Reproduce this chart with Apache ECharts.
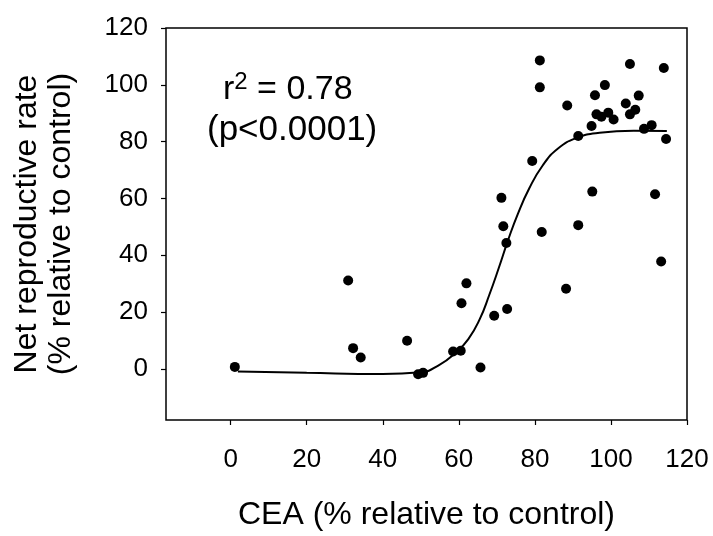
<!DOCTYPE html>
<html>
<head>
<meta charset="utf-8">
<script src="https://cdn.jsdelivr.net/npm/echarts@6/dist/echarts.min.js"></script>
<style>
html, body { margin: 0; padding: 0; background: #fff; }
#chart { width: 713px; height: 536px; }
</style>
</head>
<body>
<div id="chart"></div>
<script>
// measured points: CEA (%) vs net reproductive rate (%)
const cea = [1.1, 30.9, 32.2, 34.2, 46.4, 49.3, 50.6, 58.5, 60.5, 60.7,
  62.0, 65.7, 69.3, 71.2, 71.7, 72.5, 72.7, 79.3, 81.3, 81.3,
  81.8, 88.2, 88.5, 91.4, 91.4, 94.9, 95.1, 95.8, 96.2, 97.5,
  98.4, 99.3, 100.7, 103.9, 105.0, 105.0, 106.4, 107.3, 108.7, 110.7,
  111.6, 113.2, 113.9, 114.5];
const netRate = [0.7, 31.1, 7.3, 4.0, 9.9, -1.9, -1.4, 6.1, 6.4, 23.1,
  30.1, 0.5, 18.7, 60.2, 50.2, 44.3, 21.1, 73.2, 108.6, 99.1,
  48.2, 28.2, 92.7, 82.0, 50.6, 85.5, 62.4, 96.3, 89.6, 88.8,
  99.9, 90.2, 87.8, 93.4, 107.3, 89.6, 91.2, 96.2, 84.5, 85.8,
  61.5, 37.8, 105.9, 80.9];

// fitted sigmoid
const fitX = [1.9, 20, 40, 50, 55, 59, 62.5, 65.5, 68, 70.5,
  73, 75.5, 78.5, 82, 86, 91, 97, 106, 114.7];
const fitY = [-0.9, -1.4, -1.8, -1.2, 1.5, 5.5, 10.5, 17.5, 26, 35.5,
  45.5, 54.5, 63.5, 71.5, 77.5, 81.3, 83.1, 83.8, 83.7];

const xTicks = [0, 20, 40, 60, 80, 100, 120];
const yTicks = [0, 20, 40, 60, 80, 100, 120];

const font = '"Liberation Sans", Arial, sans-serif';

const chart = echarts.init(document.getElementById('chart'));
chart.setOption({
  animation: false,
  textStyle: { fontFamily: font, color: '#000' },
  grid: {
    left: 166, right: 26, top: 28, bottom: 116,
    show: true, borderColor: '#000', borderWidth: 1.5
  },
  xAxis: {
    type: 'value', min: -17, max: 120,
    name: 'CEA (% relative to control)',
    nameLocation: 'middle', nameGap: 79,
    nameTextStyle: { fontSize: 32, color: '#000', fontFamily: font },
    axisLine: { show: false, onZero: false },
    axisTick: { show: true, customValues: xTicks, length: 5, lineStyle: { color: '#000', width: 1.2 } },
    axisLabel: { customValues: xTicks, fontSize: 26, color: '#000', margin: 27, fontFamily: font },
    splitLine: { show: false }
  },
  yAxis: {
    type: 'value', min: -18, max: 120,
    name: 'Net reproductive rate\n(% relative to control)',
    nameLocation: 'middle', nameGap: 88,
    nameTextStyle: { fontSize: 32, color: '#000', fontFamily: font, lineHeight: 34 },
    axisLine: { show: false, onZero: false },
    axisTick: { show: true, customValues: yTicks, length: 5, lineStyle: { color: '#000', width: 1.2 } },
    axisLabel: { customValues: yTicks, fontSize: 26, color: '#000', margin: 18, fontFamily: font },
    splitLine: { show: false }
  },
  graphic: [
    {
      type: 'text', left: 223, top: 70,
      style: {
        text: 'r{s|2} = 0.78',
        fontSize: 34, fontFamily: font, fill: '#000',
        lineHeight: 40,
        rich: { s: { fontSize: 24, fontFamily: font, verticalAlign: 'top', lineHeight: 24 } }
      }
    },
    {
      type: 'text', left: 207, top: 113,
      style: { text: '(p<0.0001)', fontSize: 35, fontFamily: font, fill: '#000' }
    }
  ],
  series: [
    {
      type: 'scatter',
      data: cea.map((x, i) => [x, netRate[i]]),
      symbol: 'circle', symbolSize: 10,
      itemStyle: { color: '#000', opacity: 1 },
      z: 3
    },
    {
      type: 'line',
      data: fitX.map((x, i) => [x, fitY[i]]),
      showSymbol: false, smooth: 0.5,
      lineStyle: { color: '#000', width: 2 },
      z: 2
    }
  ]
});
</script>
</body>
</html>
